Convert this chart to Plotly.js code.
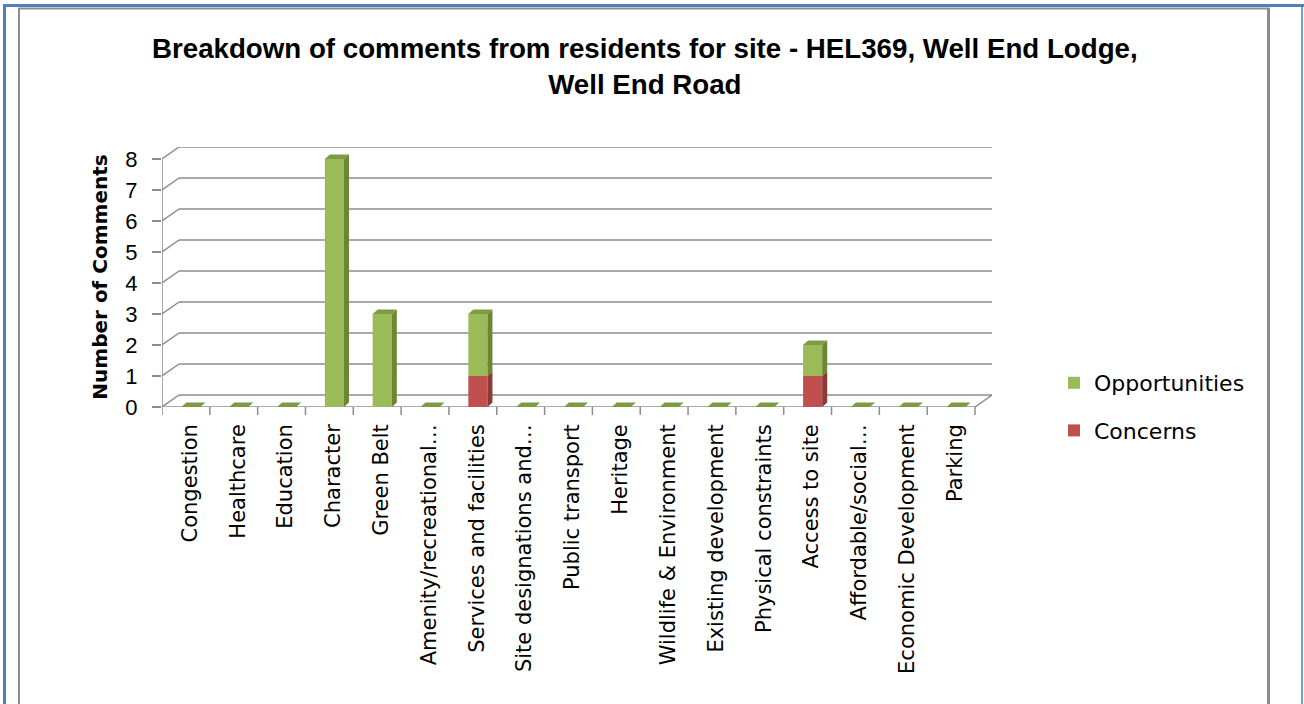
<!DOCTYPE html>
<html>
<head>
<meta charset="utf-8">
<script src="https://cdn.plot.ly/plotly-3.0.1.min.js"></script>
<style>html,body{margin:0;padding:0;background:#fff;}#chart{width:1304px;height:704px;}</style>
</head>
<body>
<div id="chart"></div>
<script>
// ---- data ----
const categories = ["Congestion","Healthcare","Education","Character","Green Belt","Amenity/recreational\u2026","Services and facilities","Site designations and\u2026","Public transport","Heritage","Wildlife & Environment","Existing development","Physical constraints","Access to site","Affordable/social\u2026","Economic Development","Parking"];
const opportunities = [0,0,0,8,3,0,2,0,0,0,0,0,0,1,0,0,0];
const concerns      = [0,0,0,0,0,0,1,0,0,0,0,0,0,1,0,0,0];
const yTicks = [0,1,2,3,4,5,6,7,8];
const titleText = "Breakdown of comments from residents for site - HEL369, Well End Lodge,<br>Well End Road";

// ---- geometry / style ----
const W = 1304, H = 704;
const M = {l:162, r:312, t:147, b:297};
const PW = W - M.l - M.r, PH = H - M.t - M.b;
const N = categories.length;
const catPx = 813 / N;
const WALL_X = 17 / catPx;
const YMAX = 8;
const unitPx = 31;
const WALL_Y = 12 / unitPx;
const BAR_W = 0.4, BAR_SHIFT = 0.105, DX = 0.105, DY = 0.145;

const GREEN = "#9BBB59", GREEN_SIDE = "#6B8734", GREEN_TOP = "#7D9B43";
const RED = "#C0504D", RED_SIDE = "#8C3A37";
const GRID = "#8C8C8C";

const x = categories.map((_, i) => i);

function sidePolys(bases, values) {
  const xs = [], ys = [];
  values.forEach((v, i) => {
    if (v <= 0) return;
    const x1 = i + BAR_SHIFT + BAR_W / 2;
    const y0 = bases[i], y1 = bases[i] + v;
    xs.push(x1, x1 + DX, x1 + DX, x1, x1, null);
    ys.push(y0, y0 + DY, y1 + DY, y1, y0, null);
  });
  return {xs, ys};
}
function topPolys(totals) {
  const xs = [], ys = [];
  totals.forEach((t, i) => {
    const x0 = i + BAR_SHIFT - BAR_W / 2, x1 = i + BAR_SHIFT + BAR_W / 2;
    xs.push(x0, x0 + DX, x1 + DX, x1, x0, null);
    ys.push(t, t + DY, t + DY, t, t, null);
  });
  return {xs, ys};
}
const zeros = concerns.map(() => 0);
const totals = concerns.map((c, i) => c + opportunities[i]);
const redSide = sidePolys(zeros, concerns);
const greenSide = sidePolys(concerns, opportunities);
const tops = topPolys(totals);

const traces = [
  {type:"bar", name:"Opportunities", x:x, y:opportunities, base:concerns, width:BAR_W, offset:BAR_SHIFT - BAR_W/2,
   marker:{color:GREEN, line:{width:0}}, legendgroup:"o", hoverinfo:"y+name"},
  {type:"bar", name:"Concerns", x:x, y:concerns, base:zeros, width:BAR_W, offset:BAR_SHIFT - BAR_W/2,
   marker:{color:RED, line:{width:0}}, legendgroup:"c", hoverinfo:"y+name"},
  {type:"scatter", mode:"lines", x:redSide.xs, y:redSide.ys, fill:"toself", fillcolor:RED_SIDE,
   line:{width:0, color:RED_SIDE}, showlegend:false, hoverinfo:"skip"},
  {type:"scatter", mode:"lines", x:greenSide.xs, y:greenSide.ys, fill:"toself", fillcolor:GREEN_SIDE,
   line:{width:0, color:GREEN_SIDE}, showlegend:false, hoverinfo:"skip"},
  {type:"scatter", mode:"lines", x:tops.xs, y:tops.ys, fill:"toself", fillcolor:GREEN_TOP,
   line:{width:0, color:GREEN_TOP}, showlegend:false, hoverinfo:"skip"}
];

// ---- axis decoration shapes ----
const shapes = [];
const L0 = -0.5, R0 = N - 0.5;
yTicks.forEach(v => {
  shapes.push({type:"line", xref:"x", yref:"y", layer:"below", x0:L0 + WALL_X, x1:R0 + WALL_X, y0:v + WALL_Y, y1:v + WALL_Y, line:{color:GRID, width:1.5}});
  shapes.push({type:"line", xref:"x", yref:"y", layer:"below", x0:L0, x1:L0 + WALL_X, y0:v, y1:v + WALL_Y, line:{color:GRID, width:1.5}});
});
shapes.push({type:"line", xref:"x", yref:"y", layer:"below", x0:R0, x1:R0 + WALL_X, y0:0, y1:WALL_Y, line:{color:GRID, width:1.5}});
shapes.push({type:"line", xref:"x", yref:"y", layer:"below", x0:L0, x1:R0, y0:0, y1:0, line:{color:GRID, width:1.5}});
shapes.push({type:"line", xref:"x", yref:"y", layer:"below", x0:L0, x1:L0, y0:0, y1:YMAX, line:{color:GRID, width:1.5}});
for (let k = 0; k <= N; k++) {
  shapes.push({type:"line", xref:"x", yref:"paper", x0:L0 + k, x1:L0 + k, y0:0, y1:-8 / PH, line:{color:GRID, width:1.5}});
}
// frame
const px = v => (v - M.l) / PW;
const py = v => (H - M.b - v) / PH;
const BLUE = "#4F81BD";
shapes.push({type:"line", xref:"paper", yref:"paper", x0:px(3), x1:px(1304), y0:py(5.5), y1:py(5.5), line:{color:BLUE, width:3}});
shapes.push({type:"line", xref:"paper", yref:"paper", x0:px(4.5), x1:px(4.5), y0:py(4), y1:py(704), line:{color:BLUE, width:3}});
shapes.push({type:"line", xref:"paper", yref:"paper", x0:px(1302), x1:px(1302), y0:py(7), y1:py(704), line:{color:BLUE, width:1.5}});
shapes.push({type:"line", xref:"paper", yref:"paper", x0:px(18), x1:px(1270), y0:py(8.5), y1:py(8.5), line:{color:"#8C8C8C", width:2}});
shapes.push({type:"line", xref:"paper", yref:"paper", x0:px(19), x1:px(19), y0:py(8), y1:py(704), line:{color:"#8C8C8C", width:2}});
shapes.push({type:"line", xref:"paper", yref:"paper", x0:px(1268.5), x1:px(1268.5), y0:py(8), y1:py(704), line:{color:"#8C8C8C", width:3}});

const layout = {
  width: W, height: H,
  margin: M,
  paper_bgcolor: "#fff", plot_bgcolor: "rgba(0,0,0,0)",
  barmode: "overlay",
  showlegend: true,
  title: {text: titleText, x: 0.4945, xanchor: "center", yref: "container", y: 1 - 58 / H, yanchor: "top",
          font: {family: "Liberation Sans, Arial, sans-serif", size: 27.7, color: "#000", weight: "bold"}},
  xaxis: {range: [L0, R0 + WALL_X], tickmode: "array", tickvals: x, ticktext: categories,
          tickangle: -90, ticks: "", showgrid: false, zeroline: false, showline: false,
          ticklabelstandoff: 12, ticklabelshift: 4,
          tickfont: {family: "DejaVu Sans, sans-serif", size: 21, color: "#000"}, fixedrange: true},
  yaxis: {range: [0, YMAX + WALL_Y], tickmode: "array", tickvals: yTicks, ticks: "outside", ticklen: 9,
          tickcolor: GRID, tickwidth: 1.5, showgrid: false, zeroline: false, showline: false,
          ticklabelstandoff: 10,
          tickfont: {family: "Liberation Sans, Arial, sans-serif", size: 22, color: "#000"},
          title: {text: "Number of Comments", standoff: 12,
                  font: {family: "DejaVu Sans, sans-serif", size: 20, color: "#000", weight: "bold"}},
          fixedrange: true},
  legend: {traceorder: "grouped", tracegroupgap: 16, xref: "container", yref: "container",
           x: 1054 / W, xanchor: "left", y: 1 - 362 / H, yanchor: "top", bgcolor: "rgba(0,0,0,0)",
           font: {family: "DejaVu Sans, sans-serif", size: 22, color: "#000"}},
  shapes: shapes
};

Plotly.newPlot("chart", traces, layout, {staticPlot: true, displayModeBar: false});
</script>
</body>
</html>
